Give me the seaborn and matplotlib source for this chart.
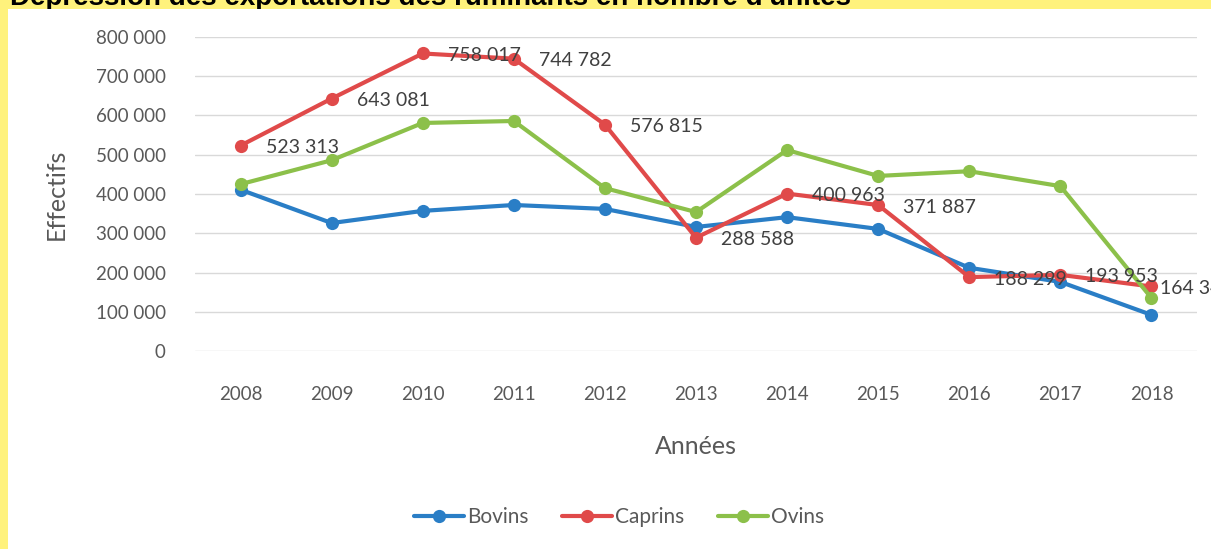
import pandas as pd
import seaborn as sns
import matplotlib.pyplot as plt
from matplotlib.patches import Rectangle
from matplotlib.ticker import FuncFormatter

annees = [2008, 2009, 2010, 2011, 2012, 2013, 2014, 2015, 2016, 2017, 2018]
bovins = [411000, 326000, 357000, 372000, 362000, 316000, 341000, 311000, 212000, 176000, 92000]
caprins = [523313, 643081, 758017, 744782, 576815, 288588, 400963, 371887, 188299, 193953, 164348]
ovins = [425000, 486000, 581000, 586000, 415000, 354000, 512000, 446000, 458000, 420000, 135000]

series = ["Bovins", "Caprins", "Ovins"]
couleurs = {"Bovins": "#2A7EC6", "Caprins": "#E04A4A", "Ovins": "#8CC04A"}

df = pd.DataFrame({
    "Années": annees * 3,
    "Effectifs": bovins + caprins + ovins,
    "Espèce": [s for s in series for _ in annees],
})

def esp(v):
    return f"{int(v):,}".replace(",", " ")

sns.set_theme(style="white")
plt.rcParams['font.family'] = ['Lato', 'DejaVu Sans']

fig = plt.figure(figsize=(12.11, 5.49), dpi=100)
fig.patch.set_facecolor("#FFF27C")
# panel blanc sous le titre coupé
fig.patches.append(Rectangle((8 / 1211, 0), 1, 1 - 9 / 549, transform=fig.transFigure,
                             facecolor="white", edgecolor="none", zorder=1))
fig.text(10 / 1211, 1 - 5 / 549, "Dépression des exportations des ruminants en nombre d'unités",
         family=["Liberation Sans"], fontweight="bold", fontsize=20, color="black",
         va="baseline", ha="left", zorder=0)

ax = fig.add_axes([195 / 1211, 1 - 351 / 549, (1197 - 195) / 1211, (351 - 37) / 549])
ax.set_zorder(2)
ax.set_facecolor("white")

sns.lineplot(data=df, x="Années", y="Effectifs", hue="Espèce", palette=couleurs,
             marker="o", markersize=9.5, markeredgewidth=0, linewidth=3,
             ax=ax, legend=False)

for i, (x, v) in enumerate(zip(annees, caprins)):
    dx = 6 if i == len(annees) - 1 else 18
    ax.annotate(esp(v), (x, v), xytext=(dx, -1.5), textcoords="offset points",
                ha="left", va="center", fontsize=14, color="#404040",
                annotation_clip=False)

ax.set_xlim(2007.5, 2018.5)
ax.set_ylim(0, 800000)
ax.set_yticks(range(0, 800001, 100000))
ax.yaxis.set_major_formatter(FuncFormatter(lambda v, p: esp(v)))
ax.set_xticks(annees)
ax.grid(axis="y", color="#D9D9D9", linewidth=1)
ax.grid(axis="x", visible=False)
for s in ax.spines.values():
    s.set_visible(False)
ax.tick_params(axis="y", length=0, pad=21, labelsize=13.5, labelcolor="#595959")
ax.tick_params(axis="x", length=0, pad=25, labelsize=13.5, labelcolor="#595959")
ax.set_ylabel("Effectifs", fontsize=18, color="#595959", labelpad=20)
ax.set_xlabel("Années", fontsize=18, color="#595959", labelpad=23)

handles = [plt.Line2D([], [], color=couleurs[s], marker="o", markersize=9.5,
                      markeredgewidth=0, linewidth=3) for s in series]
fig.legend(handles, series, loc="center", bbox_to_anchor=(619 / 1211, 1 - 517 / 549),
           ncol=3, frameon=False, fontsize=15, handlelength=2.4, handletextpad=0.15,
           columnspacing=1.6, labelcolor="#595959")

fig.savefig("out.png", dpi=100)
